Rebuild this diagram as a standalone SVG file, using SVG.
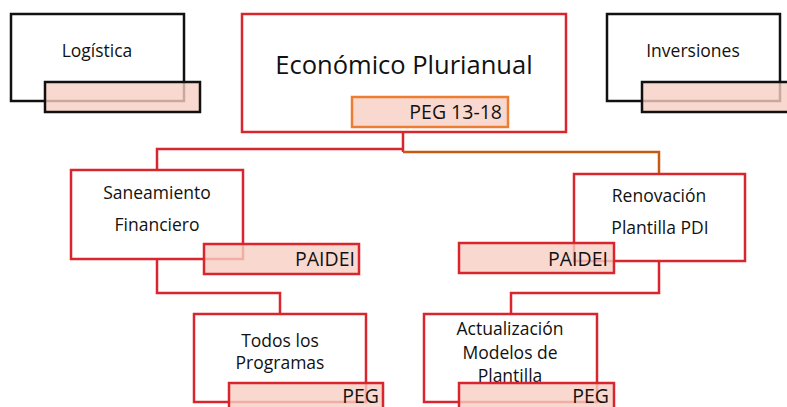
<svg xmlns="http://www.w3.org/2000/svg" width="787" height="407" viewBox="0 0 787 407">
<style>
text{font-family:"Open Sans","Noto Sans","Liberation Sans",sans-serif;fill:#111}
.box{fill:#fff;stroke-width:2.5}
.blk{stroke:#111}
.red{stroke:#D9262E}
.tag{fill:#F7CFC3;fill-opacity:0.8;stroke-width:2.5}
.org{stroke:#ED7D31}
.c{text-anchor:middle;font-size:17.5px}
.r{text-anchor:end;font-size:19.5px}
.ln{fill:none;stroke-width:2.5}
</style>
<g id="connectors">
<path class="ln red" d="M403,132 V152 M403,149 H157 V170"/>
<path class="ln" stroke="#C55A11" d="M403,152 H659 V174"/>
<path class="ln red" d="M157,259 V293 H280 V314"/>
<path class="ln red" d="M659,261 V293 H511 V314"/>
</g>
<g id="logistica">
<rect class="box blk" x="11" y="14" width="173" height="87"/>
<text class="c" x="97" y="57">Logística</text>
<rect class="tag blk" x="45" y="82" width="155" height="30"/>
</g>
<g id="economico">
<rect class="box red" x="242" y="14" width="324" height="118"/>
<text x="404" y="74" text-anchor="middle" font-size="25.5">Económico Plurianual</text>
<rect class="tag org" x="352" y="97" width="156" height="30"/>
<text class="r" x="502" y="119">PEG 13-18</text>
</g>
<g id="inversiones">
<rect class="box blk" x="607" y="14" width="173" height="87"/>
<text class="c" x="693" y="57">Inversiones</text>
<rect class="tag blk" x="642" y="82" width="155" height="30"/>
</g>
<g id="saneamiento">
<rect class="box red" x="71" y="170" width="172" height="89"/>
<text class="c" x="157" y="199">Saneamiento</text>
<text class="c" x="157" y="231">Financiero</text>
<rect class="tag red" x="204" y="244" width="155" height="30"/>
<text class="r" x="355" y="266">PAIDEI</text>
</g>
<g id="renovacion">
<rect class="box red" x="574" y="174" width="171" height="87"/>
<text class="c" x="659" y="202">Renovación</text>
<text class="c" x="660" y="234">Plantilla PDI</text>
<rect class="tag red" x="459" y="243" width="155" height="30"/>
<text class="r" x="608" y="266">PAIDEI</text>
</g>
<g id="todos">
<rect class="box red" x="194" y="314" width="172" height="88"/>
<text class="c" x="280" y="347">Todos los</text>
<text class="c" x="280" y="369">Programas</text>
<rect class="tag red" x="229" y="383" width="154" height="30"/>
<text class="r" x="379" y="403">PEG</text>
</g>
<g id="actualizacion">
<rect class="box red" x="424" y="314" width="173" height="88"/>
<text class="c" x="510" y="335">Actualización</text>
<text class="c" x="510" y="359">Modelos de</text>
<text class="c" x="510" y="382">Plantilla</text>
<rect class="tag red" x="459" y="383" width="155" height="30"/>
<text class="r" x="609" y="403">PEG</text>
</g>
</svg>
